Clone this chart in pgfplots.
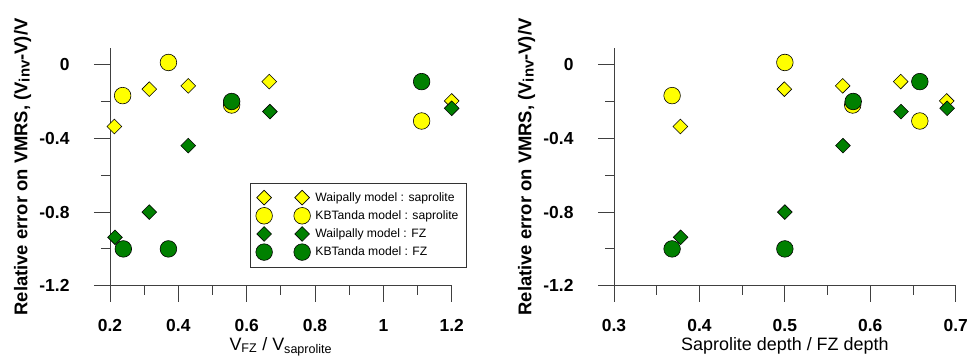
\documentclass[border=0pt]{standalone}
\usepackage{pgfplots}
\pgfplotsset{compat=1.18}
\usepackage{fontspec}
\setmainfont{Liberation Sans}
\definecolor{myyellow}{RGB}{255,255,0}
\definecolor{mygreen}{RGB}{0,128,0}
\pgfplotsset{
  common/.style={
    scale only axis,
    height=237.4bp,
    ymin=-1.2, ymax=0.09,
    axis lines*=left,
    axis line style={black!75, line width=0.8bp},
    tick align=outside,
    major tick length=16bp,
    minor tick length=9bp,
    every tick/.style={black!75, line width=0.8bp},
    ytick={-1.2,-0.8,-0.4,0},
    yticklabels={-1.2,-0.8,-0.4,0},
    minor ytick={-1,-0.6,-0.2},
    tick label style={font=\fontsize{17.5}{20}\selectfont\bfseries},
    yticklabel style={xshift=-21bp},
    xticklabel style={yshift=-14bp},
    ylabel={Relative error on VMRS, (V\raisebox{-0.25ex}{\fontsize{15}{17}\selectfont inv}-V)/V},
    ylabel style={font=\fontsize{18.5}{20}\selectfont\bfseries, at={([xshift=-87.5bp]axis description cs:0,0.5)}, anchor=center},
    xlabel style={font=\fontsize{18}{20}\selectfont, at={([yshift=-64.5bp]axis description cs:0.5,0)}, anchor=base},
    ydiamond/.style={only marks, mark=square*, mark size=5.2bp, mark options={rotate=45, fill=myyellow, draw=black, line width=0.6bp}},
    ycircle/.style={only marks, mark=*, mark size=8.3bp, mark options={fill=myyellow, draw=black, line width=0.6bp}},
    gdiamond/.style={only marks, mark=square*, mark size=5.2bp, mark options={rotate=45, fill=mygreen, draw=black, line width=0.6bp}},
    gcircle/.style={only marks, mark=*, mark size=8.3bp, mark options={fill=mygreen, draw=black, line width=0.6bp}},
  }
}
\begin{document}
\begin{tikzpicture}
\useasboundingbox (0,0) rectangle (970bp,-358bp);
\begin{axis}[common,
  at={(110bp,-285.7bp)}, anchor=south west,
  width=341.7bp,
  xmin=0.2, xmax=1.2,
  xtick={0.2,0.4,0.6,0.8,1,1.2},
  xticklabels={0.2,0.4,0.6,0.8,1,1.2},
  minor xtick={0.3,0.5,0.7,0.9,1.1},
  xlabel={V\textsubscript{FZ} / V\textsubscript{saprolite}},
  legend style={at={(1.044,0.078)}, anchor=south east, draw=black!80, line width=0.6bp,
    font=\fontsize{12.2}{14}\selectfont, inner xsep=6bp, inner ysep=6.5bp, row sep=2.5bp,
    cells={anchor=west}},
  legend image code/.code={\draw[#1,only marks] plot coordinates {(0bp,0bp) (38bp,0bp)};\path (49bp,0bp);},
]
\addplot[ydiamond] coordinates {(0.2127,-0.335) (0.315,-0.132) (0.429,-0.114) (0.666,-0.091) (1.2,-0.196)};
\addlegendentry{Waipally model : saprolite}
\addplot[ycircle] coordinates {(0.237,-0.167) (0.371,0.013) (0.556,-0.218) (1.112,-0.305)};
\addlegendentry{KBTanda model : saprolite}
\addplot[gdiamond] coordinates {(0.2146,-0.937) (0.315,-0.80) (0.429,-0.439) (0.668,-0.254) (1.2,-0.236)};
\addlegendentry{Wailpally model : FZ}
\addplot[gcircle] coordinates {(0.239,-1.0) (0.371,-1.0) (0.556,-0.199) (1.112,-0.091)};
\addlegendentry{KBTanda model : FZ}
\end{axis}
\begin{axis}[common,
  at={(614bp,-285.7bp)}, anchor=south west,
  width=341.7bp,
  xmin=0.3, xmax=0.7,
  xtick={0.3,0.4,0.5,0.6,0.7},
  xticklabels={0.3,0.4,0.5,0.6,0.7},
  minor xtick={0.35,0.45,0.55,0.65},
  xlabel={Saprolite depth / FZ depth},
]
\addplot[ydiamond] coordinates {(0.3777,-0.335) (0.4994,-0.132) (0.5677,-0.114) (0.6356,-0.091) (0.6895,-0.196)};
\addplot[ycircle] coordinates {(0.368,-0.167) (0.5,0.013) (0.5794,-0.218) (0.658,-0.305)};
\addplot[gdiamond] coordinates {(0.378,-0.937) (0.5,-0.80) (0.568,-0.439) (0.636,-0.254) (0.69,-0.236)};
\addplot[gcircle] coordinates {(0.368,-1.0) (0.5,-1.0) (0.58,-0.199) (0.658,-0.091)};
\end{axis}
\end{tikzpicture}
\end{document}
